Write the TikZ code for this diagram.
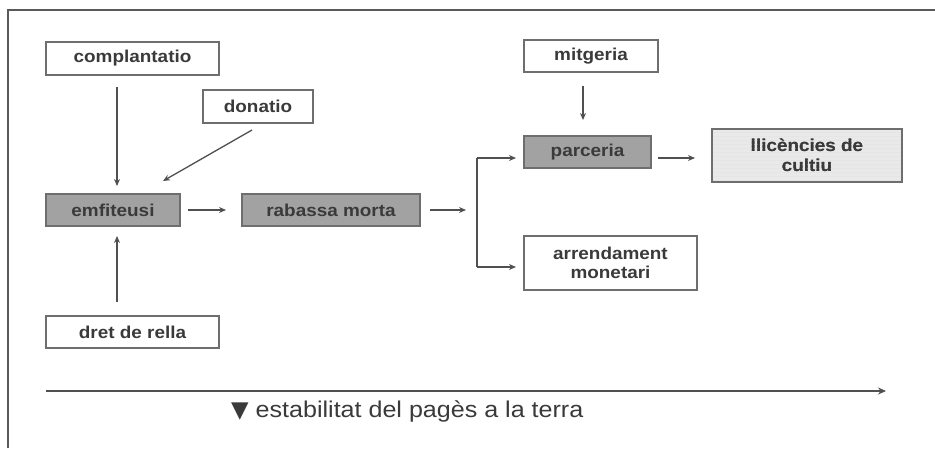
\documentclass[tikz,border=0pt]{standalone}
\usepackage{fontspec}
\setmainfont[FakeStretch=1.1]{Liberation Sans}
\newfontfamily\symfont{DejaVu Sans}
\usetikzlibrary{arrows.meta,patterns}
\definecolor{boxline}{HTML}{6E6E6E}
\definecolor{darkfill}{HTML}{A2A2A2}
\definecolor{lightfill}{HTML}{E9E9E9}
\definecolor{txt}{HTML}{3A3A3A}
\definecolor{arr}{HTML}{505050}
\tikzset{
  base/.style={draw=boxline, line width=1.7pt, inner sep=0pt, align=center,
    font=\fontsize{17.2}{19.5}\selectfont\bfseries, text=txt},
  whitebox/.style={base, fill=white},
  graybox/.style={base, fill=darkfill},
  lightbox/.style={base, fill=lightfill},
  conn/.style={draw=arr, line width=1.3pt, -{Stealth[length=7pt,width=6pt]}},
  plain/.style={draw=arr, line width=1.3pt},
}
\begin{document}
\begin{tikzpicture}[x=1pt,y=-1pt]
\useasboundingbox (0,0) rectangle (935,448);
\fill[white] (0,0) rectangle (935,448);
% frame
\draw[gray!70!black, line width=1.5pt] (8,448) -- (8,10) -- (935,10);
% nodes
\node[whitebox, minimum width=173pt, minimum height=33pt] (compl) at (132.5,58.5) {complantatio};
\node[whitebox, minimum width=110pt, minimum height=33pt] (donat) at (258,106.5) {donatio};
\node[graybox, minimum width=134pt, minimum height=32pt] (emf) at (113,210) {emfiteusi};
\node[graybox, minimum width=178pt, minimum height=32pt] (rab) at (331,210) {rabassa morta};
\node[whitebox, minimum width=173pt, minimum height=32pt] (dret) at (132.5,332) {dret de rella};
\node[whitebox, minimum width=134pt, minimum height=32pt] (mitg) at (591,56) {mitgeria};
\node[graybox, minimum width=127pt, minimum height=32pt] (parc) at (587.5,152) {parceria};
\node[lightbox, minimum width=190pt, minimum height=53pt] (llic) at (807,155.5) {llicències de\\cultiu};
\node[whitebox, minimum width=173pt, minimum height=54pt] (arr) at (610.5,263) {arrendament\\monetari};
% faint horizontal texture of light box
\begin{scope}
\clip (712,129) rectangle (902,182);
\foreach \yy in {132,136,...,180} \draw[white!80!gray, line width=0.3pt] (712,\yy) -- (902,\yy);
\end{scope}
\node[lightbox, fill=none, minimum width=190pt, minimum height=53pt] at (807,155.5) {llicències de\\cultiu};
% coordinates
\coordinate (c1a) at (117,87);
\coordinate (c1b) at (117,186);
\coordinate (d1a) at (252,130);
\coordinate (d1b) at (163,181);
\coordinate (r1a) at (117,302);
\coordinate (r1b) at (117,236);
\coordinate (e1a) at (188,210);
\coordinate (e1b) at (226,210);
\coordinate (ra1a) at (430,210);
\coordinate (ra1b) at (466,210);
\coordinate (jt) at (477,158);
\coordinate (jb) at (477,267);
\coordinate (pt) at (516,158);
\coordinate (at) at (516,267);
\coordinate (m1a) at (583,86);
\coordinate (m1b) at (583,120);
\coordinate (p1a) at (658,158);
\coordinate (p1b) at (695,158);
\coordinate (ax1) at (46,391);
\coordinate (ax2) at (886,391);
% connectors
\draw[conn] (c1a) -- (c1b);
\draw[conn] (d1a) -- (d1b);
\draw[conn] (r1a) -- (r1b);
\draw[conn] (e1a) -- (e1b);
\draw[conn] (ra1a) -- (ra1b);
\draw[plain] (jt) -- (jb);
\draw[conn] (jt) -- (pt);
\draw[conn] (jb) -- (at);
\draw[conn] (m1a) -- (m1b);
\draw[conn] (p1a) -- (p1b);
\draw[draw=arr, line width=1.5pt, -{Stealth[length=8pt,width=7pt]}] (ax1) -- (ax2);
% caption
\node[anchor=west, inner sep=0pt, text=txt, font=\fontsize{22.8}{26}\selectfont] (cap) at (231,411)
  {{\symfont ▼} estabilitat del pagès a la terra};
\end{tikzpicture}
\end{document}
